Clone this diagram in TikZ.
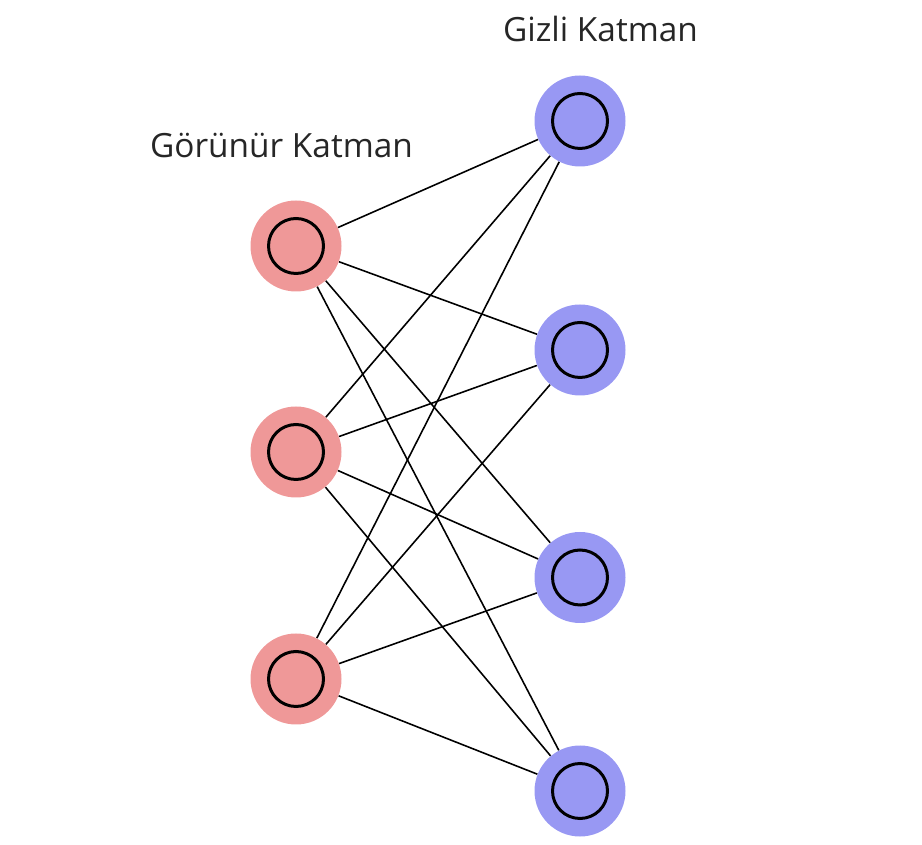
\documentclass[tikz,border=0pt]{standalone}
\usepackage{fontspec}
\setmainfont{Open Sans}
\usetikzlibrary{positioning}
\definecolor{visred}{RGB}{239,152,152}
\definecolor{hidblue}{RGB}{152,152,243}

\begin{document}
\begin{tikzpicture}[
    unit/.style={circle, minimum size=1.82cm, inner sep=0pt},
    ring/.style={draw=black, line width=1.7pt},
    wire/.style={draw=black, line width=0.9pt},
    lbl/.style={anchor=base, text=black!85, font=\fontsize{19}{23}\selectfont}
]
    \useasboundingbox (0,0) rectangle (18.44,16.88);
    % visible layer
    \foreach \i/\y in {1/11.96, 2/7.84, 3/3.30}
        \node[unit, fill=visred] (v\i) at (5.92,\y) {};
    % hidden layer
    \foreach \j/\y in {1/14.46, 2/9.88, 3/5.33, 4/1.06}
        \node[unit, fill=hidblue] (h\j) at (11.6,\y) {};
    % inner rings
    \foreach \n in {v1,v2,v3,h1,h2,h3,h4}
        \draw[ring] (\n) circle (0.55cm);
    % connections
    \foreach \i in {1,2,3}
        \foreach \j in {1,2,3,4}
            \draw[wire] (v\i) -- (h\j);
    \node[lbl] (vislbl) at (5.63,13.72) {Görünür Katman};
    \node[lbl] (hidlbl) at (12.01,16.04) {Gizli Katman};
\end{tikzpicture}
\end{document}
